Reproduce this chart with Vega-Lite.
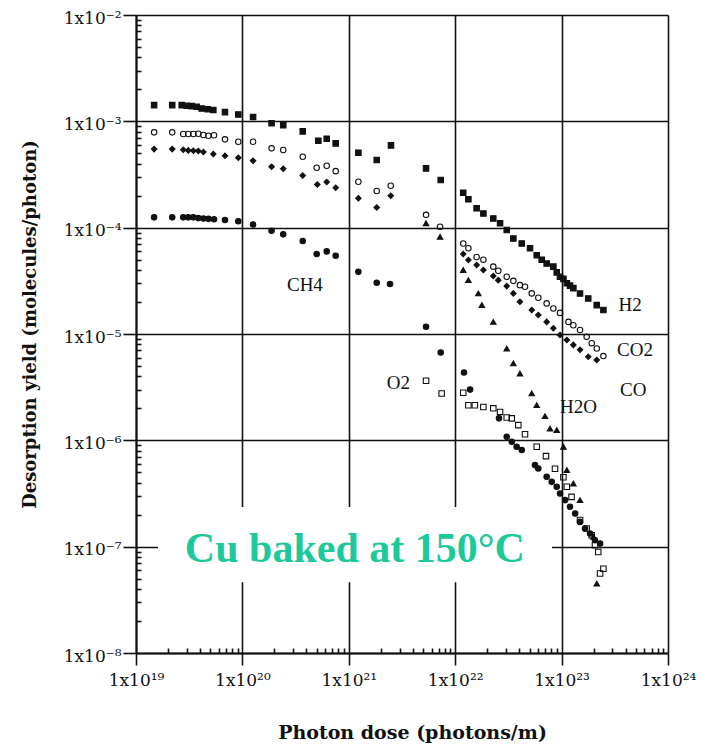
{
  "$schema": "https://vega.github.io/schema/vega-lite/v6.json",
  "width": 532,
  "height": 638,
  "autosize": {"type": "none"},
  "padding": {"left": 136, "top": 15, "right": 42, "bottom": 92},
  "background": "white",
  "config": {"view": {"stroke": null}, "font": "Liberation Serif"},
  "resolve": {"axis": {"x": "independent", "y": "independent"}},
  "datasets": {
    "pts": [
      {"s":"H2","x":1.48e19,"y":1.42e-3},{"s":"H2","x":2.19e19,"y":1.42e-3},{"s":"H2","x":2.69e19,"y":1.42e-3},{"s":"H2","x":3.0e19,"y":1.40e-3},{"s":"H2","x":3.34e19,"y":1.39e-3},{"s":"H2","x":3.72e19,"y":1.37e-3},{"s":"H2","x":4.14e19,"y":1.32e-3},{"s":"H2","x":4.72e19,"y":1.30e-3},{"s":"H2","x":5.33e19,"y":1.28e-3},{"s":"H2","x":6.86e19,"y":1.22e-3},{"s":"H2","x":9.15e19,"y":1.16e-3},{"s":"H2","x":1.26e20,"y":1.10e-3},{"s":"H2","x":1.88e20,"y":9.6e-4},{"s":"H2","x":2.42e20,"y":9.2e-4},{"s":"H2","x":3.69e20,"y":8.05e-4},{"s":"H2","x":5.17e20,"y":6.57e-4},{"s":"H2","x":6.2e20,"y":6.86e-4},{"s":"H2","x":7.53e20,"y":6.2e-4},{"s":"H2","x":1.23e21,"y":5.07e-4},{"s":"H2","x":1.83e21,"y":4.33e-4},{"s":"H2","x":2.49e21,"y":5.94e-4},{"s":"H2","x":5.32e21,"y":3.61e-4},{"s":"H2","x":7.31e21,"y":2.81e-4},{"s":"H2","x":1.19e22,"y":2.13e-4},{"s":"H2","x":1.33e22,"y":1.85e-4},{"s":"H2","x":1.59e22,"y":1.52e-4},{"s":"H2","x":1.84e22,"y":1.36e-4},{"s":"H2","x":2.28e22,"y":1.22e-4},{"s":"H2","x":2.64e22,"y":1.10e-4},{"s":"H2","x":3.05e22,"y":9.5e-5},{"s":"H2","x":3.52e22,"y":7.9e-5},{"s":"H2","x":4.22e22,"y":7.1e-5},{"s":"H2","x":5.05e22,"y":6.4e-5},{"s":"H2","x":5.84e22,"y":5.5e-5},{"s":"H2","x":6.5e22,"y":5.0e-5},{"s":"H2","x":7.24e22,"y":4.6e-5},{"s":"H2","x":8.36e22,"y":4.3e-5},{"s":"H2","x":9.0e22,"y":3.8e-5},{"s":"H2","x":9.66e22,"y":3.45e-5},{"s":"H2","x":1.04e23,"y":3.3e-5},{"s":"H2","x":1.12e23,"y":3.0e-5},{"s":"H2","x":1.2e23,"y":2.85e-5},{"s":"H2","x":1.29e23,"y":2.7e-5},{"s":"H2","x":1.49e23,"y":2.4e-5},{"s":"H2","x":1.78e23,"y":2.16e-5},{"s":"H2","x":2.14e23,"y":1.87e-5},{"s":"H2","x":2.47e23,"y":1.68e-5},
      {"s":"CO2","x":1.48e19,"y":7.88e-4},{"s":"CO2","x":2.19e19,"y":7.88e-4},{"s":"CO2","x":2.78e19,"y":7.6e-4},{"s":"CO2","x":3.1e19,"y":7.6e-4},{"s":"CO2","x":3.46e19,"y":7.6e-4},{"s":"CO2","x":3.85e19,"y":7.64e-4},{"s":"CO2","x":4.3e19,"y":7.43e-4},{"s":"CO2","x":4.79e19,"y":7.32e-4},{"s":"CO2","x":5.41e19,"y":7.39e-4},{"s":"CO2","x":6.86e19,"y":6.77e-4},{"s":"CO2","x":9.15e19,"y":6.43e-4},{"s":"CO2","x":1.26e20,"y":6.43e-4},{"s":"CO2","x":1.88e20,"y":5.57e-4},{"s":"CO2","x":2.42e20,"y":5.37e-4},{"s":"CO2","x":3.69e20,"y":4.65e-4},{"s":"CO2","x":4.99e20,"y":3.66e-4},{"s":"CO2","x":6.2e20,"y":3.82e-4},{"s":"CO2","x":7.53e20,"y":3.4e-4},{"s":"CO2","x":1.23e21,"y":2.7e-4},{"s":"CO2","x":1.83e21,"y":2.21e-4},{"s":"CO2","x":2.48e21,"y":2.48e-4},{"s":"CO2","x":5.32e21,"y":1.32e-4},{"s":"CO2","x":7.2e21,"y":1.02e-4},{"s":"CO2","x":1.19e22,"y":7.1e-5},{"s":"CO2","x":1.33e22,"y":6.4e-5},{"s":"CO2","x":1.59e22,"y":5.3e-5},{"s":"CO2","x":1.84e22,"y":5.0e-5},{"s":"CO2","x":2.28e22,"y":4.3e-5},{"s":"CO2","x":2.54e22,"y":3.93e-5},{"s":"CO2","x":3.05e22,"y":3.45e-5},{"s":"CO2","x":3.52e22,"y":3.16e-5},{"s":"CO2","x":4.06e22,"y":2.88e-5},{"s":"CO2","x":4.53e22,"y":2.78e-5},{"s":"CO2","x":5.24e22,"y":2.41e-5},{"s":"CO2","x":6.04e22,"y":2.19e-5},{"s":"CO2","x":7.24e22,"y":1.94e-5},{"s":"CO2","x":8.36e22,"y":1.74e-5},{"s":"CO2","x":9.66e22,"y":1.58e-5},{"s":"CO2","x":1.16e23,"y":1.30e-5},{"s":"CO2","x":1.29e23,"y":1.21e-5},{"s":"CO2","x":1.49e23,"y":1.09e-5},{"s":"CO2","x":1.72e23,"y":9.4e-6},{"s":"CO2","x":1.92e23,"y":8.2e-6},{"s":"CO2","x":2.14e23,"y":7.3e-6},{"s":"CO2","x":2.47e23,"y":6.2e-6},
      {"s":"CO","x":1.48e19,"y":5.48e-4},{"s":"CO","x":2.19e19,"y":5.48e-4},{"s":"CO","x":2.78e19,"y":5.4e-4},{"s":"CO","x":3.1e19,"y":5.33e-4},{"s":"CO","x":3.46e19,"y":5.29e-4},{"s":"CO","x":3.85e19,"y":5.26e-4},{"s":"CO","x":4.3e19,"y":5.14e-4},{"s":"CO","x":5.33e19,"y":4.92e-4},{"s":"CO","x":6.86e19,"y":4.74e-4},{"s":"CO","x":9.15e19,"y":4.55e-4},{"s":"CO","x":1.26e20,"y":4.26e-4},{"s":"CO","x":1.88e20,"y":3.74e-4},{"s":"CO","x":2.42e20,"y":3.58e-4},{"s":"CO","x":3.69e20,"y":3.1e-4},{"s":"CO","x":5.06e20,"y":2.55e-4},{"s":"CO","x":6.2e20,"y":2.69e-4},{"s":"CO","x":7.53e20,"y":2.37e-4},{"s":"CO","x":1.23e21,"y":1.89e-4},{"s":"CO","x":1.83e21,"y":1.55e-4},{"s":"CO","x":2.48e21,"y":2.0e-4},{"s":"CO","x":1.19e22,"y":5.65e-5},{"s":"CO","x":1.33e22,"y":4.96e-5},{"s":"CO","x":1.59e22,"y":4.45e-5},{"s":"CO","x":1.84e22,"y":3.99e-5},{"s":"CO","x":2.28e22,"y":3.51e-5},{"s":"CO","x":2.54e22,"y":3.21e-5},{"s":"CO","x":3.05e22,"y":2.82e-5},{"s":"CO","x":3.52e22,"y":2.41e-5},{"s":"CO","x":4.06e22,"y":2.01e-5},{"s":"CO","x":5.24e22,"y":1.68e-5},{"s":"CO","x":6.04e22,"y":1.51e-5},{"s":"CO","x":7.24e22,"y":1.30e-5},{"s":"CO","x":8.36e22,"y":1.13e-5},{"s":"CO","x":9.66e22,"y":9.8e-6},{"s":"CO","x":1.12e23,"y":8.8e-6},{"s":"CO","x":1.29e23,"y":7.9e-6},{"s":"CO","x":1.49e23,"y":7.1e-6},{"s":"CO","x":1.78e23,"y":6.1e-6},{"s":"CO","x":2.14e23,"y":5.7e-6},
      {"s":"CH4","x":1.48e19,"y":1.25e-4},{"s":"CH4","x":2.19e19,"y":1.25e-4},{"s":"CH4","x":2.78e19,"y":1.25e-4},{"s":"CH4","x":3.1e19,"y":1.25e-4},{"s":"CH4","x":3.46e19,"y":1.25e-4},{"s":"CH4","x":3.85e19,"y":1.23e-4},{"s":"CH4","x":4.3e19,"y":1.22e-4},{"s":"CH4","x":4.79e19,"y":1.21e-4},{"s":"CH4","x":5.41e19,"y":1.20e-4},{"s":"CH4","x":6.86e19,"y":1.18e-4},{"s":"CH4","x":9.15e19,"y":1.15e-4},{"s":"CH4","x":1.26e20,"y":1.07e-4},{"s":"CH4","x":1.88e20,"y":9.35e-5},{"s":"CH4","x":2.42e20,"y":8.65e-5},{"s":"CH4","x":3.69e20,"y":7.5e-5},{"s":"CH4","x":4.99e20,"y":5.65e-5},{"s":"CH4","x":6.2e20,"y":5.98e-5},{"s":"CH4","x":7.53e20,"y":5.44e-5},{"s":"CH4","x":1.23e21,"y":3.85e-5},{"s":"CH4","x":1.83e21,"y":3.03e-5},{"s":"CH4","x":2.44e21,"y":2.95e-5},{"s":"CH4","x":5.32e21,"y":1.17e-5},{"s":"CH4","x":7.31e21,"y":6.7e-6},{"s":"CH4","x":1.21e22,"y":4.35e-6},{"s":"CH4","x":1.38e22,"y":3.0e-6},{"s":"CH4","x":2.58e22,"y":1.61e-6},{"s":"CH4","x":3.05e22,"y":1.08e-6},{"s":"CH4","x":3.4e22,"y":9.7e-7},{"s":"CH4","x":3.78e22,"y":8.7e-7},{"s":"CH4","x":4.22e22,"y":8.1e-7},{"s":"CH4","x":5.62e22,"y":5.85e-7},{"s":"CH4","x":6.04e22,"y":5.44e-7},{"s":"CH4","x":7.24e22,"y":4.54e-7},{"s":"CH4","x":8.07e22,"y":4.07e-7},{"s":"CH4","x":9.0e22,"y":3.66e-7},{"s":"CH4","x":9.66e22,"y":3.16e-7},{"s":"CH4","x":1.08e23,"y":2.74e-7},{"s":"CH4","x":1.2e23,"y":2.37e-7},{"s":"CH4","x":1.34e23,"y":2.05e-7},{"s":"CH4","x":1.49e23,"y":1.71e-7},{"s":"CH4","x":1.66e23,"y":1.48e-7},{"s":"CH4","x":1.85e23,"y":1.33e-7},{"s":"CH4","x":2.06e23,"y":1.15e-7},{"s":"CH4","x":2.3e23,"y":1.07e-7},
      {"s":"H2O","x":5.32e21,"y":1.10e-4},{"s":"H2O","x":7.2e21,"y":8.2e-5},{"s":"H2O","x":1.19e22,"y":4.0e-5},{"s":"H2O","x":1.33e22,"y":3.21e-5},{"s":"H2O","x":1.65e22,"y":2.41e-5},{"s":"H2O","x":1.78e22,"y":1.87e-5},{"s":"H2O","x":2.28e22,"y":1.30e-5},{"s":"H2O","x":3.05e22,"y":7.3e-6},{"s":"H2O","x":3.52e22,"y":5.3e-6},{"s":"H2O","x":4.06e22,"y":4.25e-6},{"s":"H2O","x":5.24e22,"y":2.76e-6},{"s":"H2O","x":5.84e22,"y":2.14e-6},{"s":"H2O","x":6.98e22,"y":1.69e-6},{"s":"H2O","x":7.78e22,"y":1.29e-6},{"s":"H2O","x":9.0e22,"y":1.25e-6},{"s":"H2O","x":1.04e23,"y":8.7e-7},{"s":"H2O","x":1.12e23,"y":5.25e-7},{"s":"H2O","x":1.29e23,"y":3.93e-7},{"s":"H2O","x":1.49e23,"y":2.74e-7},{"s":"H2O","x":1.99e23,"y":1.24e-7},{"s":"H2O","x":2.14e23,"y":4.5e-8},
      {"s":"O2","x":5.32e21,"y":3.63e-6},{"s":"O2","x":7.46e21,"y":2.76e-6},{"s":"O2","x":1.19e22,"y":2.8e-6},{"s":"O2","x":1.33e22,"y":2.14e-6},{"s":"O2","x":1.53e22,"y":2.14e-6},{"s":"O2","x":1.84e22,"y":2.06e-6},{"s":"O2","x":2.28e22,"y":2.0e-6},{"s":"O2","x":2.64e22,"y":1.85e-6},{"s":"O2","x":3.05e22,"y":1.64e-6},{"s":"O2","x":3.4e22,"y":1.61e-6},{"s":"O2","x":3.92e22,"y":1.39e-6},{"s":"O2","x":4.53e22,"y":1.14e-6},{"s":"O2","x":5.84e22,"y":8.7e-7},{"s":"O2","x":7.13e22,"y":7.1e-7},{"s":"O2","x":8.67e22,"y":5.4e-7},{"s":"O2","x":1.04e23,"y":4.5e-7},{"s":"O2","x":1.12e23,"y":3.66e-7},{"s":"O2","x":1.24e23,"y":2.94e-7},{"s":"O2","x":1.49e23,"y":1.78e-7},{"s":"O2","x":1.72e23,"y":1.48e-7},{"s":"O2","x":1.92e23,"y":1.28e-7},{"s":"O2","x":2.06e23,"y":1.03e-7},{"s":"O2","x":2.21e23,"y":8.9e-8},{"s":"O2","x":2.47e23,"y":6.2e-8},{"s":"O2","x":2.3e23,"y":5.6e-8}
    ],
    "lbl": [
      {"t":"CH4","x":3.87e20,"y":2.88e-5},
      {"t":"H2","x":4.4e23,"y":1.87e-5},
      {"t":"CO2","x":4.9e23,"y":7.05e-6},
      {"t":"CO","x":4.72e23,"y":2.96e-6},
      {"t":"H2O","x":1.44e23,"y":2.07e-6},
      {"t":"O2","x":2.92e21,"y":3.43e-6}
    ]
  },
  "layer": [
    {
      "data": {"name": "pts"},
      "mark": {"type": "point", "stroke": "#111", "strokeWidth": 1.1, "opacity": 1},
      "encoding": {
        "x": {
          "field": "x", "type": "quantitative",
          "scale": {"type": "log", "domain": [1e19, 1e24], "nice": false},
          "axis": {
            "orient": "bottom",
            "values": [1e19,2e19,3e19,4e19,5e19,6e19,7e19,8e19,9e19,1e20,2e20,3e20,4e20,5e20,6e20,7e20,8e20,9e20,1e21,2e21,3e21,4e21,5e21,6e21,7e21,8e21,9e21,1e22,2e22,3e22,4e22,5e22,6e22,7e22,8e22,9e22,1e23,2e23,3e23,4e23,5e23,6e23,7e23,8e23,9e23,1e24],
            "title": "Photon dose  (photons/m)",
            "titleFont": "DejaVu Serif", "titleFontWeight": "bold", "titleFontSize": 19, "titleColor": "#111",
            "titleX": 276, "titleY": 79, "titleBaseline": "middle", "titleAlign": "center",
            "grid": true, "gridColor": "#111", "gridWidth": 1.6,
            "gridOpacity": {"condition": {"test": "abs(log(datum.value)/LN10 - round(log(datum.value)/LN10)) < 0.01", "value": 1}, "value": 0},
            "domainColor": "#111", "domainWidth": 2,
            "tickColor": "#111", "tickWidth": 1.6,
            "tickSize": {"condition": {"test": "abs(log(datum.value)/LN10 - round(log(datum.value)/LN10)) < 0.01", "value": 12}, "value": -5},
            "labelExpr": "abs(log(datum.value)/LN10 - round(log(datum.value)/LN10)) > 0.01 ? '' : ['1x10¹⁹','1x10²⁰','1x10²¹','1x10²²','1x10²³','1x10²⁴'][round(log(datum.value)/LN10) - 19]",
            "labelFont": "DejaVu Serif", "labelFontSize": 17, "labelColor": "#111",
            "labelPadding": 7, "labelFlush": false, "labelOverlap": false
          }
        },
        "y": {
          "field": "y", "type": "quantitative",
          "scale": {"type": "log", "domain": [1e-8, 1e-2], "nice": false},
          "axis": {
            "orient": "left",
            "values": [1e-8,2e-8,3e-8,4e-8,5e-8,6e-8,7e-8,8e-8,9e-8,1e-7,2e-7,3e-7,4e-7,5e-7,6e-7,7e-7,8e-7,9e-7,1e-6,2e-6,3e-6,4e-6,5e-6,6e-6,7e-6,8e-6,9e-6,1e-5,2e-5,3e-5,4e-5,5e-5,6e-5,7e-5,8e-5,9e-5,1e-4,2e-4,3e-4,4e-4,5e-4,6e-4,7e-4,8e-4,9e-4,1e-3,2e-3,3e-3,4e-3,5e-3,6e-3,7e-3,8e-3,9e-3,1e-2],
            "title": "Desorption yield  (molecules/photon)",
            "titleFont": "DejaVu Serif", "titleFontWeight": "bold", "titleFontSize": 18, "titleColor": "#111",
            "titleX": -106, "titleY": 309, "titleBaseline": "middle", "titleAlign": "center", "titleAngle": -90,
            "grid": true, "gridColor": "#111", "gridWidth": 1.6,
            "gridOpacity": {"condition": {"test": "abs(log(datum.value)/LN10 - round(log(datum.value)/LN10)) < 0.01", "value": 1}, "value": 0},
            "domainColor": "#111", "domainWidth": 2,
            "tickColor": "#111", "tickWidth": 1.6,
            "tickSize": {"condition": {"test": "abs(log(datum.value)/LN10 - round(log(datum.value)/LN10)) < 0.01", "value": 13}, "value": -5},
            "labelExpr": "abs(log(datum.value)/LN10 - round(log(datum.value)/LN10)) > 0.01 ? '' : ['1x10⁻⁸','1x10⁻⁷','1x10⁻⁶','1x10⁻⁵','1x10⁻⁴','1x10⁻³','1x10⁻²'][round(log(datum.value)/LN10) + 8]",
            "labelFont": "DejaVu Serif", "labelFontSize": 17, "labelColor": "#111",
            "labelPadding": 2, "labelOffset": 3, "labelFlush": false, "labelOverlap": false
          }
        },
        "shape": {
          "field": "s", "type": "nominal",
          "scale": {"domain": ["H2","CO2","CO","CH4","H2O","O2"], "range": ["square","circle","diamond","circle","triangle-up","square"]},
          "legend": null
        },
        "fill": {
          "field": "s", "type": "nominal",
          "scale": {"domain": ["H2","CO2","CO","CH4","H2O","O2"], "range": ["#111","transparent","#111","#111","#111","transparent"]},
          "legend": null
        },
        "size": {
          "field": "s", "type": "nominal",
          "scale": {"domain": ["H2","CO2","CO","CH4","H2O","O2"], "range": [30, 30, 16, 22, 18, 28]},
          "legend": null
        }
      }
    },
    {
      "data": {"values": [{}]},
      "mark": {"type": "rect", "fill": "white"},
      "encoding": {
        "x": {"datum": 1.61e19, "type": "quantitative", "axis": null},
        "x2": {"datum": 8.13e22},
        "y": {"datum": 2.36e-7, "type": "quantitative", "axis": null},
        "y2": {"datum": 4.63e-8}
      }
    },
    {
      "data": {"values": [{}]},
      "mark": {"type": "text", "font": "Liberation Serif", "fontWeight": "bold", "fontSize": 42, "color": "#1dc99a", "align": "center", "baseline": "alphabetic"},
      "encoding": {
        "x": {"datum": 1.14e21, "type": "quantitative", "axis": null},
        "y": {"datum": 7.2e-8, "type": "quantitative", "axis": null},
        "text": {"value": "Cu baked at 150°C"}
      }
    },
    {
      "data": {"name": "lbl"},
      "mark": {"type": "text", "font": "Liberation Serif", "fontSize": 19, "color": "#111", "align": "center", "baseline": "middle"},
      "encoding": {
        "x": {"field": "x", "type": "quantitative", "axis": null},
        "y": {"field": "y", "type": "quantitative", "axis": null},
        "text": {"field": "t"}
      }
    }
  ]
}
